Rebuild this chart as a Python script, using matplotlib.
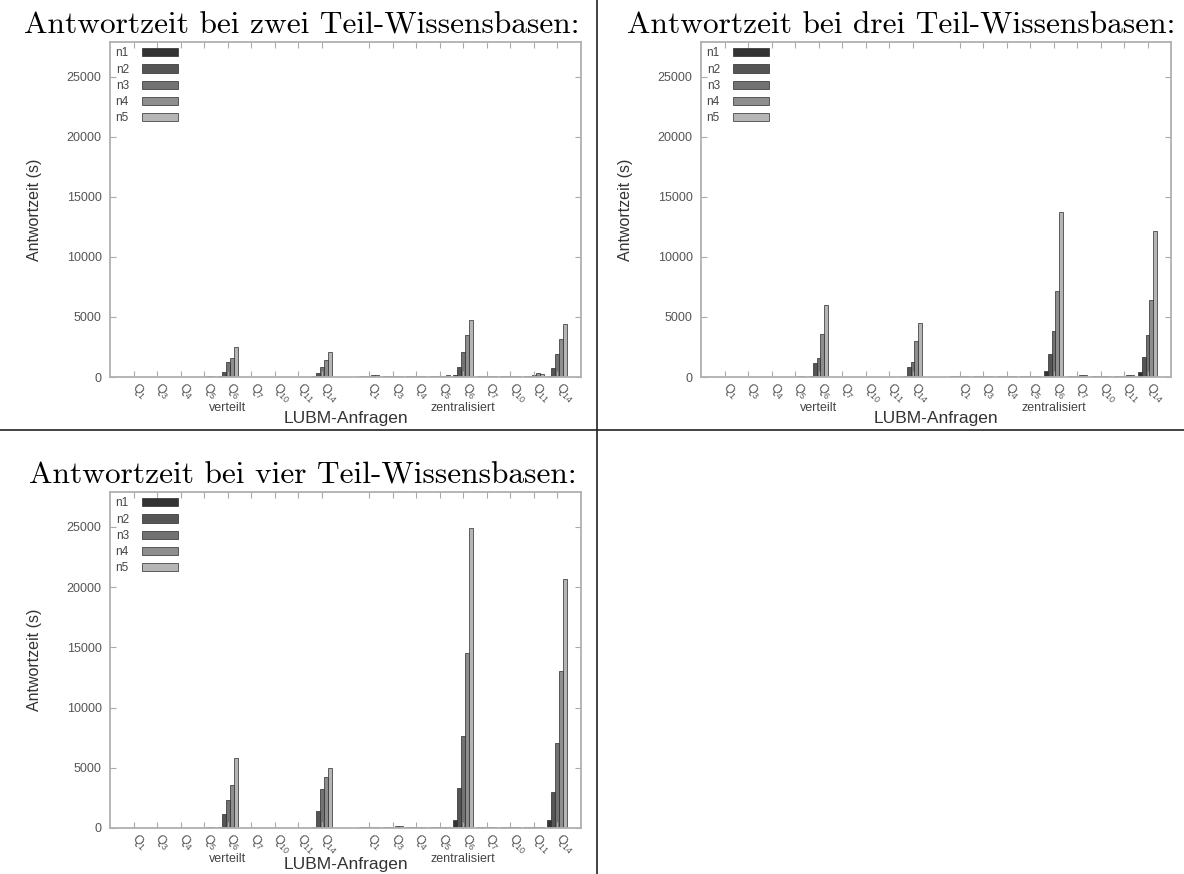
import numpy as np
import matplotlib
matplotlib.use("Agg")
from matplotlib import pyplot as plt
from matplotlib.lines import Line2D
import matplotlib.transforms as mtransforms

plt.rcParams['font.family'] = ['Liberation Sans', 'DejaVu Sans']
plt.rcParams['mathtext.fontset'] = 'custom'
plt.rcParams['mathtext.rm'] = 'Liberation Sans'
plt.rcParams['mathtext.it'] = 'Liberation Sans'

# query labels (same for "verteilt" and "zentralisiert")
queries = ["1", "3", "4", "5", "6", "7", "10", "11", "14"]
series_names = ["n1", "n2", "n3", "n4", "n5"]
bar_colors = ["#333333", "#555555", "#727272", "#8e8e8e", "#b5b5b5"]

# response times (s): 9 queries verteilt, then 9 queries zentralisiert
zwei_n1 = [5, 5, 5, 20, 100, 5, 5, 5, 50, 80, 80, 80, 80, 150, 80, 80, 80, 100]
zwei_n2 = [5, 5, 5, 30, 450, 5, 5, 5, 300, 100, 90, 90, 90, 800, 90, 90, 100, 750]
zwei_n3 = [5, 5, 5, 40, 1250, 5, 5, 5, 800, 120, 100, 100, 100, 2050, 100, 100, 140, 1900]
zwei_n4 = [5, 5, 5, 50, 1600, 5, 5, 5, 1400, 140, 110, 110, 110, 3500, 110, 110, 350, 3200]
zwei_n5 = [5, 5, 5, 60, 2500, 5, 5, 5, 2100, 190, 120, 120, 130, 4750, 120, 120, 220, 4400]

drei_n1 = [5, 5, 5, 20, 100, 5, 5, 5, 50, 80, 80, 80, 80, 500, 80, 80, 80, 450]
drei_n2 = [5, 5, 5, 30, 1150, 5, 5, 5, 800, 90, 90, 90, 90, 1900, 100, 90, 90, 1700]
drei_n3 = [5, 5, 5, 40, 1600, 5, 5, 5, 1250, 100, 100, 100, 100, 3800, 120, 100, 110, 3500]
drei_n4 = [5, 5, 5, 50, 3550, 5, 5, 5, 3000, 110, 110, 110, 110, 7150, 170, 110, 130, 6450]
drei_n5 = [5, 5, 5, 60, 6000, 5, 5, 5, 4500, 120, 120, 120, 120, 13750, 200, 120, 170, 12200]

vier_n1 = [5, 5, 5, 20, 80, 5, 5, 5, 60, 80, 80, 80, 80, 700, 80, 80, 80, 650]
vier_n2 = [5, 5, 5, 30, 1200, 5, 5, 5, 1400, 90, 90, 90, 90, 3300, 90, 90, 90, 3000]
vier_n3 = [5, 5, 5, 40, 2300, 5, 5, 5, 3200, 100, 110, 100, 100, 7600, 100, 100, 100, 7050]
vier_n4 = [5, 5, 5, 50, 3600, 5, 5, 5, 4200, 110, 130, 110, 110, 14500, 110, 110, 110, 13050]
vier_n5 = [5, 5, 5, 60, 5800, 5, 5, 5, 5000, 120, 140, 120, 120, 24900, 120, 120, 120, 20700]

W, H = 1184, 874
fig = plt.figure(figsize=(W / 100, H / 100), dpi=100)


def px_axes(l, t, r, b):
    return fig.add_axes([l / W, 1 - b / H, (r - l) / W, (b - t) / H])


def draw_panel(ax, data, xlab_y=-0.124):
    x = np.array(list(range(9)) + list(range(10, 19)), dtype=float)
    bw = 0.17
    for i, vals in enumerate(data):
        ax.bar(x + (i - 2) * bw, vals, width=bw, color=bar_colors[i],
               edgecolor="#2a2a2a", linewidth=0.5, label=series_names[i])
    ax.set_xlim(-1, 19)
    ax.set_ylim(0, 27900)
    ax.set_yticks([0, 5000, 10000, 15000, 20000, 25000])
    ax.set_xticks(x)
    ax.set_xticklabels(["Q$_{%s}$" % q for q in queries] * 2, rotation=-45,
                       ha="left", va="center", rotation_mode="anchor")
    ax.tick_params(axis="both", direction="in", length=4, color="#aaaaaa",
                   top=True, right=True, labelsize=9, labelcolor="#555555")
    ax.tick_params(axis="x", pad=6, labelsize=9)
    ax.tick_params(axis="y", pad=6)
    for s in ax.spines.values():
        s.set_color("#b0b0b0")
        s.set_linewidth(1.3)
    ax.set_ylabel("Antwortzeit (s)", fontsize=11.5, color="#333333")
    ax.yaxis.set_label_coords(-0.145, 0.5)
    trans = mtransforms.blended_transform_factory(ax.transData, ax.transAxes)
    ax.text(4, -0.093, "verteilt", transform=trans, ha="center", va="center",
            fontsize=9, color="#444444")
    ax.text(14, -0.093, "zentralisiert", transform=trans, ha="center", va="center",
            fontsize=9, color="#444444")
    ax.text(0.5, xlab_y, "LUBM-Anfragen", transform=ax.transAxes, ha="center",
            va="center", fontsize=12.5, color="#333333")
    ax.legend(loc="upper left", bbox_to_anchor=(0.012, 0.984), frameon=False,
              markerfirst=False, fontsize=8.5, borderpad=0, borderaxespad=0,
              handlelength=3.1, handleheight=0.7, handletextpad=1.1,
              labelspacing=0.36, labelcolor="#444444")


ax1 = px_axes(110, 42, 581, 377)
draw_panel(ax1, [zwei_n1, zwei_n2, zwei_n3, zwei_n4, zwei_n5])
ax2 = px_axes(701, 42, 1171, 377)
draw_panel(ax2, [drei_n1, drei_n2, drei_n3, drei_n4, drei_n5])
ax3 = px_axes(110, 492, 581, 828)
draw_panel(ax3, [vier_n1, vier_n2, vier_n3, vier_n4, vier_n5], xlab_y=-0.108)

title_font = dict(family="cmr10", fontsize=22.6, ha="center", va="baseline")
fig.text(302 / W, 1 - 33 / H, "Antwortzeit bei zwei Teil-Wissensbasen:", **title_font)
fig.text(901 / W, 1 - 33 / H, "Antwortzeit bei drei Teil-Wissensbasen:", **title_font)
fig.text(303 / W, 1 - 483 / H, "Antwortzeit bei vier Teil-Wissensbasen:", **title_font)

# table rules
fig.add_artist(Line2D([0, 1], [1 - 430 / H, 1 - 430 / H], transform=fig.transFigure,
                      color="#222222", linewidth=1.2))
fig.add_artist(Line2D([597 / W, 597 / W], [0, 1], transform=fig.transFigure,
                      color="#222222", linewidth=1.2))

fig.savefig("out.png", dpi=100)
